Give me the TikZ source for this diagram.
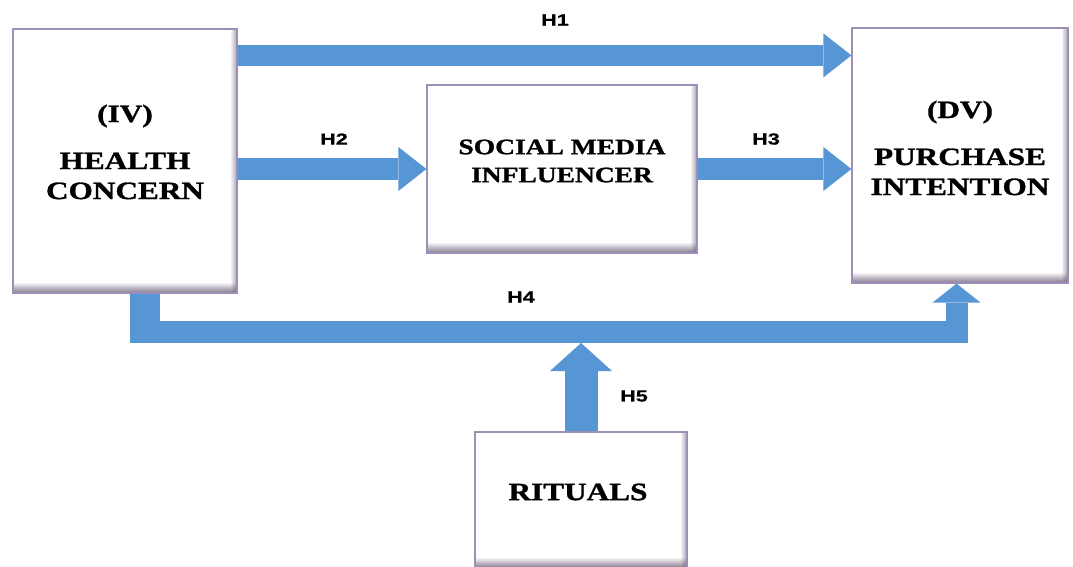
\documentclass[tikz,border=0pt]{standalone}
\usepackage{fontspec}
\setmainfont{Liberation Serif}[FakeStretch=1.25, BoldFeatures={FakeBold=1.2}]
\setsansfont{Liberation Sans}[FakeStretch=1.35, BoldFeatures={FakeBold=0.8}]
\usetikzlibrary{arrows.meta}

\definecolor{boxedge}{RGB}{156,142,182}
\definecolor{boxshade}{RGB}{104,90,118}
\definecolor{flow}{RGB}{86,150,212}

\tikzset{
  varbox/.style={draw=boxedge, line width=1.2pt, fill=white, inner sep=0pt,
    path picture={
      % soft shadow along the bottom edge
      \foreach \i in {0,...,9}{
        \pgfmathsetmacro\op{0.75*(1-\i/10)}
        \fill[boxshade, opacity=\op]
          ([yshift=\i*1pt]path picture bounding box.south west) rectangle
          ([yshift=(\i+1)*1pt]path picture bounding box.south east);
      }
      % soft shadow along the right edge
      \foreach \i in {0,...,5}{
        \pgfmathsetmacro\op{0.5*(1-\i/6)}
        \fill[boxshade, opacity=\op]
          ([xshift=-\i*1pt]path picture bounding box.south east) rectangle
          ([xshift=-(\i+1)*1pt]path picture bounding box.north east);
      }
    }},
  boxtext/.style={font=\bfseries\fontsize{25}{30}\selectfont, align=center, inner sep=0pt},
  hyp/.style={font=\sffamily\bfseries\fontsize{16}{18}\selectfont, inner sep=0pt},
  flowline/.style={draw=flow, line width=#1},
  headA/.style={-{Triangle[length=28pt,width=44pt,line width=0pt]}},
}

\begin{document}
\begin{tikzpicture}[x=1pt, y=-1pt]
\useasboundingbox[fill=white] (0,0) rectangle (1073,566);

% variable boxes
\node[varbox, minimum width=224pt, minimum height=264pt] (hc) at (125,161) {};
\node[varbox, minimum width=216pt, minimum height=255pt] (pi) at (960,155.5) {};
\node[varbox, minimum width=270pt, minimum height=168pt] (smi) at (562,169) {};
\node[varbox, minimum width=212pt, minimum height=136pt] (rit) at (581,500) {};

% box captions
\node[boxtext] (hct) at (125,152) {(IV)\\[17pt]HEALTH\\CONCERN};
\node[boxtext] (pit) at (960,148) {(DV)\\[17pt]PURCHASE\\INTENTION};
\node[boxtext, font=\bfseries\fontsize{22}{28}\selectfont] (smit) at (562,161) {SOCIAL MEDIA\\INFLUENCER};
\node[boxtext] (ritt) at (578,492) {RITUALS};

% H1: health concern -> purchase intention
\draw[flowline=21pt, headA] ([yshift=-27pt]hc.north east) -- ([yshift=-28pt]pi.north west);
% H2: health concern -> social media influencer
\draw[flowline=22pt, headA] (hc.east |- smi.west) -- (smi.west);
% H3: social media influencer -> purchase intention
\draw[flowline=22pt, headA] (smi.east) -- (smi.east -| pi.west);
% H4: health concern -> purchase intention, along the bottom
\coordinate (h4turn) at (956.5,332);
\fill[flow] ([xshift=5pt]hc.south) rectangle (160,343);
\draw[flowline=22pt, line join=miter, -{Triangle[length=19pt,width=48pt,line width=0pt]}]
  (130,332) -- (h4turn) -- (h4turn |- pi.south);
% H5: rituals -> H4 path
\coordinate (h5end) at (581,343);
\draw[flowline=33pt, -{Triangle[length=28pt,width=62pt,line width=0pt]}] (rit.north) -- (h5end);

% hypothesis labels
\node[hyp] (l1) at (555,20) {H1};
\node[hyp] (l2) at (334,139) {H2};
\node[hyp] (l3) at (766,139) {H3};
\node[hyp] (l4) at (521,297) {H4};
\node[hyp] (l5) at (634,396) {H5};
\end{tikzpicture}
\end{document}
